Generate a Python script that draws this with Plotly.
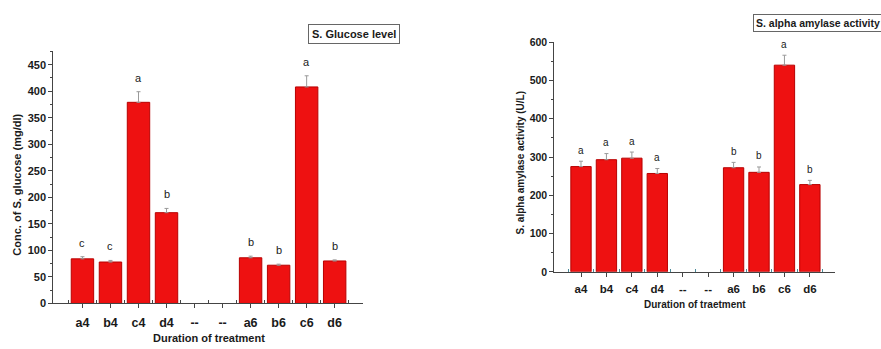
import plotly.graph_objects as go

W, H = 881, 349

tick_labels = ["a4", "b4", "c4", "d4", "--", "--", "a6", "b6", "c6", "d6"]
positions = list(range(len(tick_labels)))

glucose = [84, 78, 379, 171, None, None, 86, 72, 408, 80]
glucose_err = [4, 3, 20, 8, None, None, 3, 2, 21, 2]
glucose_letters = ["c", "c", "a", "b", "", "", "b", "b", "a", "b"]

amylase = [275, 293, 297, 257, None, None, 272, 260, 540, 228]
amylase_err = [14, 16, 16, 13, None, None, 14, 14, 26, 11]
amylase_letters = ["a", "a", "a", "a", "", "", "b", "b", "a", "b"]

FONT = "Arial, Liberation Sans, sans-serif"
BAR = "#EE1111"
EDGE = "#B80000"
TXT = "#1a1a1a"


def px_x(p):
    return p / W


def px_y(p):
    return 1 - p / H


fig = go.Figure()

fig.add_trace(go.Bar(
    x=positions, y=glucose, width=0.8,
    marker=dict(color=BAR, line=dict(color=EDGE, width=1)),
    error_y=dict(type="data", array=glucose_err, symmetric=False,
                 arrayminus=[0] * len(glucose_err), visible=True,
                 color="#9a9a9a", thickness=1, width=2),
    xaxis="x", yaxis="y", showlegend=False))

fig.add_trace(go.Bar(
    x=positions, y=amylase, width=0.8,
    marker=dict(color=BAR, line=dict(color=EDGE, width=1)),
    error_y=dict(type="data", array=amylase_err, symmetric=False,
                 arrayminus=[0] * len(amylase_err), visible=True,
                 color="#9a9a9a", thickness=1, width=2),
    xaxis="x2", yaxis="y2", showlegend=False))

axis_common = dict(
    showgrid=False, zeroline=False, showline=True, linecolor="#444",
    linewidth=1, ticks="outside", ticklen=4, tickcolor="#444",
)

annotations = []
for xi, v, e, t in zip(positions, glucose, glucose_err, glucose_letters):
    if v is None or not t:
        continue
    annotations.append(dict(x=xi, y=v + e, xref="x", yref="y", text=t,
                            showarrow=False, yanchor="middle", yshift=14,
                            font=dict(family=FONT, size=11, color=TXT)))
for xi, v, e, t in zip(positions, amylase, amylase_err, amylase_letters):
    if v is None or not t:
        continue
    annotations.append(dict(x=xi, y=v + e, xref="x2", yref="y2", text=t,
                            showarrow=False, yanchor="middle", yshift=11,
                            font=dict(family=FONT, size=10, color=TXT)))

# Panel titles (boxed)
annotations.append(dict(x=px_x(353.5), y=px_y(28.5), xref="paper", yref="paper",
                        text="S. Glucose level", showarrow=False,
                        xanchor="center", yanchor="middle",
                        bordercolor="#666", borderwidth=1, borderpad=3,
                        font=dict(family=FONT, size=11, color=TXT, weight="bold")))
annotations.append(dict(x=px_x(753), y=px_y(18), xref="paper", yref="paper",
                        text="S. alpha amylase activity", showarrow=False,
                        xanchor="left", yanchor="middle",
                        bordercolor="#666", borderwidth=1, borderpad=2,
                        font=dict(family=FONT, size=10.5, color=TXT, weight="bold")))

# Axis titles
annotations.append(dict(x=px_x(17), y=px_y(185), xref="paper", yref="paper",
                        text="Conc. of S. glucose (mg/dl)", showarrow=False,
                        textangle=-90, xanchor="center", yanchor="middle",
                        font=dict(family=FONT, size=11, color=TXT, weight="bold")))
annotations.append(dict(x=px_x(209), y=px_y(344), xref="paper", yref="paper",
                        text="Duration of treatment", showarrow=False,
                        xanchor="center", yanchor="middle",
                        font=dict(family=FONT, size=11, color=TXT, weight="bold")))
annotations.append(dict(x=px_x(520), y=px_y(163), xref="paper", yref="paper",
                        text="S. alpha amylase activity (U/L)", showarrow=False,
                        textangle=-90, xanchor="center", yanchor="middle",
                        font=dict(family=FONT, size=10, color=TXT, weight="bold")))
annotations.append(dict(x=px_x(695), y=px_y(309), xref="paper", yref="paper",
                        text="Duration of traetment", showarrow=False,
                        xanchor="center", yanchor="middle",
                        font=dict(family=FONT, size=10, color=TXT, weight="bold")))

fig.update_layout(
    width=W, height=H,
    margin=dict(l=0, r=0, t=0, b=0),
    paper_bgcolor="white", plot_bgcolor="white",
    bargap=0.2,
    xaxis=dict(domain=[px_x(53.3), px_x(362.7)], range=[-1.04, 10.0],
               anchor="y", tickvals=positions, ticktext=tick_labels,
               ticklabelstandoff=4,
               tickfont=dict(family=FONT, size=12.5, color=TXT, weight="bold"),
               minor=dict(tickvals=[p + 0.5 for p in range(-1, 10)],
                          ticks="inside", ticklen=3, tickcolor="#444"),
               **axis_common),
    yaxis=dict(domain=[px_y(308), px_y(47)], range=[0, 475],
               anchor="x", tickvals=list(range(0, 451, 50)),
               tickfont=dict(family=FONT, size=11, color=TXT, weight="bold"),
               minor=dict(dtick=25, tick0=0, ticks="outside", ticklen=2,
                          tickcolor="#444"),
               **axis_common),
    xaxis2=dict(domain=[px_x(554.3), px_x(835.3)], range=[-1.05, 10.0],
                anchor="y2", tickvals=positions, ticktext=tick_labels,
                ticklabelstandoff=2,
                tickfont=dict(family=FONT, size=11.5, color=TXT, weight="bold"),
                minor=dict(tickvals=[p + 0.5 for p in range(-1, 10)],
                           ticks="inside", ticklen=3, tickcolor="#4a8a9a"),
                **axis_common),
    yaxis2=dict(domain=[px_y(275.3), px_y(37.5)], range=[0, 600],
                anchor="x2", tickvals=list(range(0, 601, 100)),
                tickfont=dict(family=FONT, size=10.5, color=TXT, weight="bold"),
                minor=dict(dtick=50, tick0=0, ticks="outside", ticklen=2,
                           tickcolor="#444"),
                **axis_common),
    annotations=annotations,
)

fig.write_html("out.html")
